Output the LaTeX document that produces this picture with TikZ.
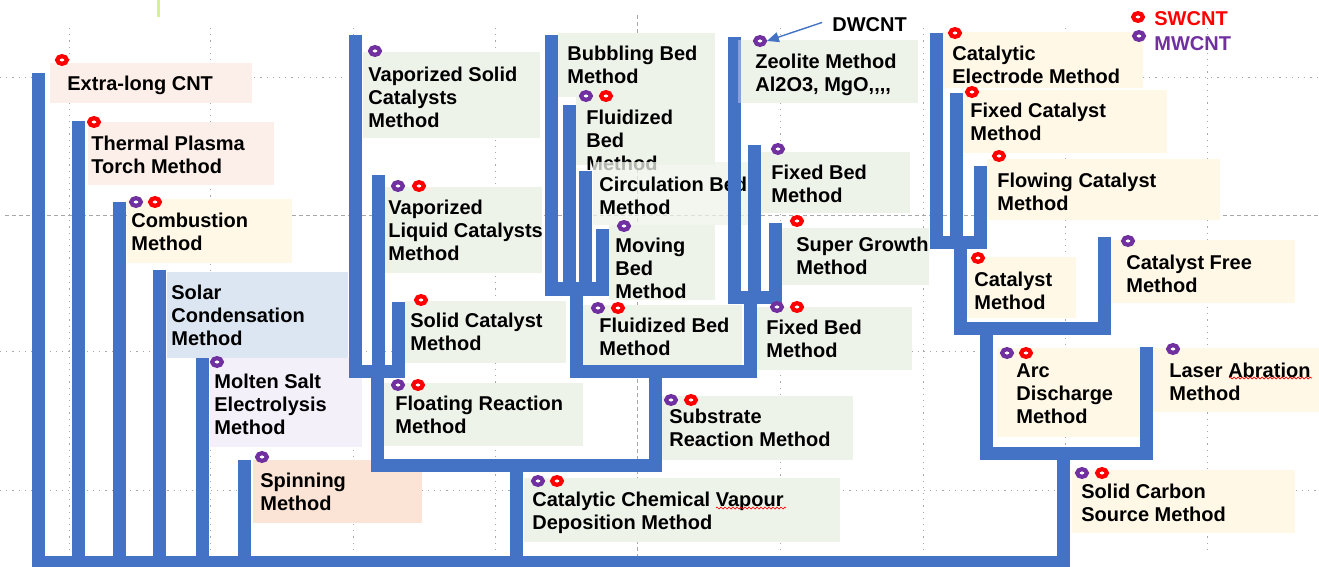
\documentclass[tikz,border=0pt]{standalone}
\usepackage{fontspec}
\setmainfont{Liberation Sans}
\usetikzlibrary{shapes.geometric,arrows.meta,decorations.pathmorphing}
\definecolor{barblue}{HTML}{4472C4}
\definecolor{ringred}{HTML}{FF0000}
\definecolor{ringpur}{HTML}{7030A0}
\definecolor{pinkbox}{HTML}{FCEEE8}
\definecolor{yelbox}{HTML}{FFF8E7}
\definecolor{bluebox}{HTML}{DCE6F2}
\definecolor{lavbox}{HTML}{F3F0F9}
\definecolor{peachbox}{HTML}{FBE4D6}
\definecolor{grnbox}{HTML}{EEF3EA}
\definecolor{guide}{HTML}{A8A8A8}
\definecolor{limemark}{HTML}{D6F28E}
\begin{document}
\begin{tikzpicture}[x=0.5pt,y=-0.5pt,
  lbl/.style={anchor=north west,inner sep=0pt,align=left,font=\fontsize{10}{11.5}\selectfont\bfseries},
  bar/.style={line width=6.5pt,draw=barblue,line join=miter},
  ring/.style={ellipse,line width=2.1pt,fill=white,minimum width=4.8pt,minimum height=3.8pt,inner sep=0pt},
  rR/.style={ring,draw=ringred},
  rP/.style={ring,draw=ringpur},
  guideline/.style={draw=guide,line width=0.3pt,dash pattern=on 0.6pt off 2.5pt},
  guidedash/.style={draw=guide,line width=0.35pt,dash pattern=on 2pt off 1.5pt},
  squiggle/.style={draw=ringred,line width=0.35pt,decorate,decoration={zigzag,segment length=2pt,amplitude=0.5pt}}]
\useasboundingbox (0,0) rectangle (1319,567);
\fill[white] (0,0) rectangle (1319,567);
% guides
\draw[guideline] (0,77) -- (345,77);
\draw[guideline] (1143,77) -- (1319,77);
\draw[guidedash] (5,215) -- (1319,215);
\draw[guideline] (0,351) -- (1319,351);
\draw[guideline] (0,490) -- (1319,490);
\foreach \gx in {69,210,353,495,780,923,1065,1207}
  \draw[guideline] (\gx,28) -- (\gx,550);
\draw[guidedash] (637,15) -- (637,567);
\draw[draw=limemark,line width=1.5pt] (158,0) -- (158,17);
% ---------- labels ----------
\fill[pinkbox] (50,63) rectangle (252,103);
\node[lbl] (extralong) at (67,76) {Extra-long CNT};
\fill[pinkbox] (88,122) rectangle (274,185);
\node[lbl] (thermal) at (91,136) {Thermal Plasma\\Torch Method};
\fill[yelbox] (127,199) rectangle (292,263);
\node[lbl] (combustion) at (131,213) {Combustion\\Method};
\fill[bluebox] (167,272) rectangle (348,358);
\node[lbl] (solar) at (171,285) {Solar\\Condensation\\Method};
\fill[lavbox] (210,358) rectangle (362,447);
\node[lbl] (molten) at (214,374) {Molten Salt\\Electrolysis\\Method};
\fill[peachbox] (253,460) rectangle (422,523);
\node[lbl] (spinning) at (260,473) {Spinning\\Method};
\fill[grnbox] (363,52) rectangle (540,138);
\node[lbl] (vapsolid) at (368,67) {Vaporized Solid\\Catalysts\\Method};
\fill[grnbox] (385,187) rectangle (542,273);
\node[lbl] (vapliquid) at (388,200) {Vaporized\\Liquid Catalysts\\Method};
\fill[grnbox] (405,301) rectangle (566,363);
\node[lbl] (solidcat) at (410,313) {Solid Catalyst\\Method};
\fill[grnbox] (383,383) rectangle (583,446);
\node[lbl] (floating) at (395,396) {Floating Reaction\\Method};
\fill[grnbox] (662,396) rectangle (853,460);
\node[lbl] (substrate) at (669,409) {Substrate\\Reaction Method};
\fill[grnbox] (524,478) rectangle (840,542);
\node[lbl] (ccvd) at (532,492) {Catalytic Chemical Vapour\\Deposition Method};
\fill[grnbox] (558,33) rectangle (715,97);
\node[lbl] (bubbling) at (567,46) {Bubbling Bed\\Method};
\fill[grnbox] (576,97) rectangle (715,165);
\node[lbl] (fluidU) at (586,110) {Fluidized\\Bed\\Method};
\fill[grnbox,fill opacity=0.75] (593,162) rectangle (750,225);
\node[lbl] (circ) at (599,177) {Circulation Bed\\Method};
\fill[grnbox] (609,225) rectangle (715,300);
\node[lbl] (moving) at (615,238) {Moving\\Bed\\Method};
\fill[grnbox] (583,305) rectangle (742,367);
\node[lbl] (fluidL) at (599,318) {Fluidized Bed\\Method};
\fill[grnbox] (740,40) rectangle (918,103);
\node[lbl] (zeolite) at (755,54) {Zeolite Method\\Al2O3, MgO{,}{,}{,}{,}};
\fill[grnbox] (761,152) rectangle (910,213);
\node[lbl] (fixedU) at (771,165) {Fixed Bed\\Method};
\fill[grnbox] (782,228) rectangle (929,285);
\node[lbl] (super) at (796,237) {Super Growth\\Method};
\fill[grnbox] (757,307) rectangle (912,370);
\node[lbl] (fixedL) at (766,320) {Fixed Bed\\Method};
\fill[yelbox] (943,32) rectangle (1143,88);
\node[lbl] (catel) at (952,46) {Catalytic\\Electrode Method};
\fill[yelbox] (963,90) rectangle (1167,153);
\node[lbl] (fixedcat) at (970,103) {Fixed Catalyst\\Method};
\fill[yelbox] (987,159) rectangle (1220,220);
\node[lbl] (flowing) at (997,173) {Flowing Catalyst\\Method};
\fill[yelbox] (967,257) rectangle (1076,318);
\node[lbl] (catm) at (974,272) {Catalyst\\Method};
\fill[yelbox] (1111,240) rectangle (1295,303);
\node[lbl] (catfree) at (1126,255) {Catalyst Free\\Method};
\fill[yelbox] (997,348) rectangle (1140,437);
\node[lbl] (arc) at (1016,363) {Arc\\Discharge\\Method};
\fill[yelbox] (1153,348) rectangle (1319,412);
\node[lbl] (laser) at (1169,363) {Laser Abration\\Method};
\fill[yelbox] (1072,470) rectangle (1295,533);
\node[lbl] (solidc) at (1081,484) {Solid Carbon\\Source Method};
% spell-check squiggles
\draw[squiggle] (716,508) -- (786,508);
\draw[squiggle] (1229,378) -- (1312,378);
% ---------- tree ----------
\coordinate (tExtra) at (38,73);
\coordinate (tThermal) at (78,121);
\coordinate (tComb) at (119,202);
\coordinate (tSolar) at (159,270);
\coordinate (tMolten) at (202,358);
\coordinate (tSpin) at (244,460);
\coordinate (jRoot) at (1063,562);
\coordinate (jSolidC) at (1063,453);
\coordinate (jCCVD) at (516,465);
\coordinate (jFloat) at (377,371.5);
\coordinate (jSubst) at (655,371.5);
\coordinate (tVapS) at (355.5,35);
\coordinate (tVapL) at (378,175);
\coordinate (tSolidCat) at (398,302);
\coordinate (jFluidL) at (576.5,289);
\coordinate (jFixedL) at (750,297);
\coordinate (tBubb) at (551,35);
\coordinate (tFluidU) at (569,105);
\coordinate (tCirc) at (585.5,171);
\coordinate (tMoving) at (602,229);
\coordinate (tZeo) at (734,37);
\coordinate (tFixedU) at (754,145);
\coordinate (tSuper) at (775,223);
\coordinate (tCatEl) at (936,33);
\coordinate (tFixedCat) at (956,93);
\coordinate (tFlow) at (980,166);
\coordinate (jCatM) at (960,243);
\coordinate (jArc) at (986.5,328);
\coordinate (tCatFree) at (1104,237);
\coordinate (tLaser) at (1146.5,347);
\draw[bar] (tExtra) |- (jRoot) -- (jSolidC);
\foreach \t in {tThermal,tComb,tSolar,tMolten,tSpin,jCCVD}
  \draw[bar] (\t) -- (\t |- jRoot);
\draw[bar] (jFloat) |- (jCCVD) -| (jSubst);
\draw[bar] (tVapS) |- (jFloat) -| (tSolidCat);
\draw[bar] (tVapL) -- (tVapL |- jFloat);
\draw[bar] (jFluidL) |- (jSubst) -| (jFixedL);
\draw[bar] (tBubb) |- (jFluidL) -| (tMoving);
\draw[bar] (tFluidU) -- (tFluidU |- jFluidL);
\draw[bar] (tCirc) -- (tCirc |- jFluidL);
\draw[bar] (tZeo) |- (jFixedL) -| (tSuper);
\draw[bar] (tFixedU) -- (tFixedU |- jFixedL);
\draw[bar] (tCatEl) |- (jCatM) -| (tFlow);
\draw[bar] (tFixedCat) -- (tFixedCat |- jCatM);
\draw[bar] (jCatM) |- (jArc) -| (tCatFree);
\draw[bar] (jArc) |- (jSolidC) -| (tLaser);
% light strip where the zeolite box overlaps its bar
\fill[white,opacity=0.35] (738,40) rectangle (740.5,103);
% ---------- rings ----------
\node[rR] (r1) at (62,60) {};
\node[rR] (r2) at (94,122) {};
\node[rP] (p3) at (136,202) {};
\node[rR] (r3) at (155,202) {};
\node[rP] (p5) at (217,362) {};
\node[rP] (p6) at (262,457) {};
\node[rP] (p7) at (375,51) {};
\node[rP] (p8) at (398,186) {};
\node[rR] (r8) at (419,186) {};
\node[rR] (r9) at (421,300) {};
\node[rP] (p10) at (398,385) {};
\node[rR] (r10) at (418,385) {};
\node[rP] (p11) at (671,400) {};
\node[rR] (r11) at (691,400) {};
\node[rP] (p12) at (538,481) {};
\node[rR] (r12) at (557,481) {};
\node[rP] (p14) at (586,96) {};
\node[rR] (r14) at (606,96) {};
\node[rP] (p16) at (624,226) {};
\node[rP] (p17) at (598,308) {};
\node[rR] (r17) at (618,308) {};
\node[rP] (p18) at (760,41) {};
\node[rP] (p19) at (778,149) {};
\node[rR] (r20) at (797,221) {};
\node[rP] (p21) at (777,307) {};
\node[rR] (r21) at (797,307) {};
\node[rR] (r22) at (955,33) {};
\node[rR] (r23) at (972,92) {};
\node[rR] (r24) at (999,156) {};
\node[rR] (r25) at (978,258) {};
\node[rP] (p26) at (1128,241) {};
\node[rP] (p27) at (1007,353) {};
\node[rR] (r27) at (1026,353) {};
\node[rP] (p28) at (1173,349) {};
\node[rP] (p29) at (1082,473) {};
\node[rR] (r29) at (1102,473) {};
% ---------- DWCNT annotation & legend ----------
\node[lbl] (dwcnt) at (832,17) {DWCNT};
\draw[draw=barblue,line width=0.7pt,-{Triangle[length=6pt,width=5pt]}] ([xshift=-5pt,yshift=1pt]dwcnt.west) -- (p18.east);
\node[rR] (legR) at (1138,17) {};
\node[rP] (legP) at (1139,36) {};
\node[lbl,text=ringred,anchor=west] (sw) at (1154,19) {SWCNT};
\node[lbl,text=ringpur,anchor=west] (mw) at (1154,44) {MWCNT};
\end{tikzpicture}
\end{document}
